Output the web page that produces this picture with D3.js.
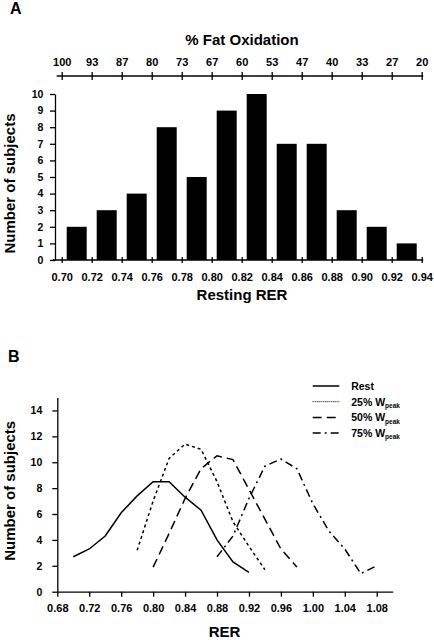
<!DOCTYPE html>
<html>
<head>
<meta charset="utf-8">
<script src="https://cdn.jsdelivr.net/npm/d3@7"></script>
<style>
  body { margin: 0; background: #fff; }
  text { font-family: "Liberation Sans", Arial, sans-serif; font-weight: bold; fill: #000; }
</style>
</head>
<body>
<div id="chart"></div>
<script>
// panel A: histogram of resting RER
var binStarts = [0.70, 0.72, 0.74, 0.76, 0.78, 0.80, 0.82, 0.84, 0.86, 0.88, 0.90, 0.92];
var counts = [2, 3, 4, 8, 5, 9, 10, 7, 7, 3, 2, 1];
var rerTicksA = [0.70, 0.72, 0.74, 0.76, 0.78, 0.80, 0.82, 0.84, 0.86, 0.88, 0.90, 0.92, 0.94];
var fatLabels = ["100", "93", "87", "80", "73", "67", "60", "53", "47", "40", "33", "27", "20"];
var countTicksA = [0, 1, 2, 3, 4, 5, 6, 7, 8, 9, 10];

// panel B: distributions per intensity
var restRER = [0.70, 0.72, 0.74, 0.76, 0.78, 0.80, 0.82, 0.84, 0.86, 0.88, 0.90, 0.92];
var restN = [2.7, 3.3, 4.3, 6.1, 7.4, 8.5, 8.5, 7.3, 6.3, 4.0, 2.3, 1.5];
var w25RER = [0.78, 0.80, 0.82, 0.84, 0.86, 0.88, 0.90, 0.92, 0.94];
var w25N = [3.2, 7.0, 10.3, 11.4, 11.0, 8.5, 5.4, 3.5, 1.7];
var w50RER = [0.80, 0.82, 0.84, 0.86, 0.88, 0.90, 0.92, 0.94, 0.96, 0.98];
var w50N = [1.9, 4.5, 7.2, 9.5, 10.5, 10.2, 7.9, 5.6, 3.3, 1.9];
var w75RER = [0.88, 0.90, 0.92, 0.94, 0.96, 0.98, 1.00, 1.02, 1.04, 1.06, 1.08];
var w75N = [2.7, 4.3, 7.2, 9.7, 10.25, 9.5, 6.8, 4.7, 3.3, 1.4, 2.0];
var rerTicksB = [0.68, 0.72, 0.76, 0.80, 0.84, 0.88, 0.92, 0.96, 1.00, 1.04, 1.08];
var countTicksB = [0, 2, 4, 6, 8, 10, 12, 14];

var seriesNames = ["Rest", "25% W", "50% W", "75% W"];
var dashes = [null, "3,3", "9,5", "8,4,2,4"];

var svg = d3.select("#chart").append("svg")
  .attr("width", 434)
  .attr("height", 640);

// ---------- panel A ----------
var xA = d3.scaleLinear().domain([0.70, 0.94]).range([61.7, 421.7]);
var yA = d3.scaleLinear().domain([0, 10]).range([260, 94]);

svg.append("text").attr("x", 10).attr("y", 14).style("font-size", "16px").text("A");

svg.selectAll(".bar")
  .data(binStarts)
  .enter().append("rect")
    .attr("class", "bar")
    .attr("x", function(d) { return xA(d + 0.01) - 10; })
    .attr("width", 20)
    .attr("y", function(d, i) { return yA(counts[i]); })
    .attr("height", function(d, i) { return yA(0) - yA(counts[i]); })
    .attr("fill", "#000");

// bottom axis (cross ticks)
var gxA = svg.append("g")
  .attr("transform", "translate(0,260)")
  .call(d3.axisBottom(xA).tickValues(rerTicksA).tickFormat(d3.format(".2f"))
    .tickSize(3).tickSizeOuter(0).tickPadding(10));
gxA.select(".domain").remove();
gxA.append("line").attr("x1", xA(0.70) - 9).attr("x2", xA(0.94) + 1.5)
  .attr("stroke", "#000").attr("stroke-width", 1.3);
gxA.selectAll(".tick line").attr("y1", -3).attr("y2", 3).attr("stroke-width", 1.3);
gxA.selectAll("text").style("font-size", "11px");

// top axis: % fat oxidation
var gtA = svg.append("g")
  .attr("transform", "translate(0,76)")
  .call(d3.axisTop(xA).tickValues(rerTicksA)
    .tickFormat(function(d, i) { return fatLabels[i]; })
    .tickSize(4).tickSizeOuter(0).tickPadding(6.3));
gtA.select(".domain").remove();
gtA.append("line").attr("x1", xA(0.70) - 5).attr("x2", xA(0.94) + 1.5)
  .attr("stroke", "#000").attr("stroke-width", 1.3);
gtA.selectAll(".tick line").attr("y1", -4).attr("y2", 4).attr("stroke-width", 1.3);
gtA.selectAll("text").style("font-size", "11px");

var gyA = svg.append("g")
  .attr("transform", "translate(55,0)")
  .call(d3.axisLeft(yA).tickValues(countTicksA).tickSize(5).tickSizeOuter(0).tickPadding(6.7));
gyA.selectAll("path, line").attr("stroke-width", 1.3);
gyA.selectAll("text").style("font-size", "10.5px");

svg.append("text").attr("x", 242).attr("y", 45).attr("text-anchor", "middle")
  .style("font-size", "15px").text("% Fat Oxidation");
svg.append("text").attr("x", 242).attr("y", 300).attr("text-anchor", "middle")
  .style("font-size", "15px").text("Resting RER");
svg.append("text").attr("transform", "translate(15,183.5) rotate(-90)")
  .attr("text-anchor", "middle").style("font-size", "15px").text("Number of subjects");

// ---------- panel B ----------
var xB = d3.scaleLinear().domain([0.68, 1.10]).range([57.3, 392.7]);
var yB = d3.scaleLinear().domain([0, 15]).range([591.7, 397.5]);

svg.append("text").attr("x", 8).attr("y", 361.7).style("font-size", "16px").text("B");

var gxB = svg.append("g")
  .attr("transform", "translate(0,591.7)")
  .call(d3.axisBottom(xB).tickValues(rerTicksB).tickFormat(d3.format(".2f"))
    .tickSize(5).tickSizeOuter(0).tickPadding(7.8));
gxB.selectAll("path, line").attr("stroke-width", 1.3);
gxB.selectAll("text").style("font-size", "11px");

var gyB = svg.append("g")
  .attr("transform", "translate(57.3,0)")
  .call(d3.axisLeft(yB).tickValues(countTicksB).tickSize(5).tickSizeOuter(0).tickPadding(10));
gyB.selectAll("path, line").attr("stroke-width", 1.3);
gyB.selectAll("text").style("font-size", "10.5px");

var series = [
  restRER.map(function(r, i) { return [r, restN[i]]; }),
  w25RER.map(function(r, i) { return [r, w25N[i]]; }),
  w50RER.map(function(r, i) { return [r, w50N[i]]; }),
  w75RER.map(function(r, i) { return [r, w75N[i]]; })
];

var line = d3.line()
  .x(function(d) { return xB(d[0]); })
  .y(function(d) { return yB(d[1]); });

svg.selectAll(".curve")
  .data(series)
  .enter().append("path")
    .attr("class", "curve")
    .attr("d", line)
    .attr("fill", "none")
    .attr("stroke", "#000")
    .attr("stroke-width", 1.5)
    .attr("stroke-dasharray", function(d, i) { return dashes[i]; });

// legend
var legend = svg.selectAll(".legend")
  .data(seriesNames)
  .enter().append("g")
    .attr("class", "legend")
    .attr("transform", function(d, i) { return "translate(312.7," + (386 + i * 15.7) + ")"; });

legend.append("line")
  .attr("x1", 0).attr("x2", 26.6)
  .attr("stroke", "#000")
  .attr("stroke-width", function(d, i) { return i === 1 ? 1 : 1.5; })
  .attr("stroke-dasharray", function(d, i) { return i === 1 ? "1,1" : dashes[i]; });

var lt = legend.append("text")
  .attr("x", 38.5).attr("y", 3.8)
  .style("font-size", "10.5px")
  .text(function(d) { return d; });
lt.filter(function(d, i) { return i > 0; })
  .append("tspan").attr("dy", 2.5).style("font-size", "6.5px").text("peak");

svg.append("text").attr("x", 224.5).attr("y", 636.5).attr("text-anchor", "middle")
  .style("font-size", "15px").text("RER");
svg.append("text").attr("transform", "translate(15,490.8) rotate(-90)")
  .attr("text-anchor", "middle").style("font-size", "15px").text("Number of subjects");
</script>
</body>
</html>
